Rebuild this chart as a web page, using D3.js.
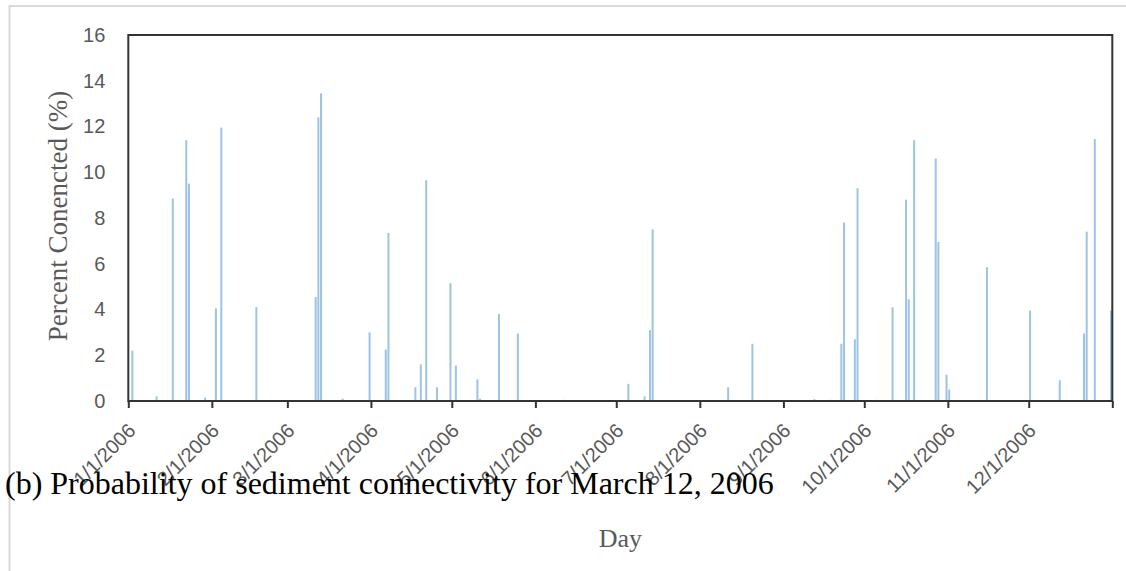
<!DOCTYPE html>
<html>
<head>
<meta charset="utf-8">
<script src="https://cdn.jsdelivr.net/npm/d3@7"></script>
<style>
  body { margin: 0; background: #fff; }
  svg { display: block; }
</style>
</head>
<body>
<div id="chart-area"><svg></svg></div>
<script>
// days with non-zero connectivity, 2006
const dates = [
  "2006-01-02", "2006-01-11", "2006-01-17", "2006-01-22", "2006-01-23", "2006-01-29",
  "2006-02-02", "2006-02-04", "2006-02-17",
  "2006-03-11", "2006-03-12", "2006-03-13", "2006-03-21", "2006-03-31",
  "2006-04-06", "2006-04-07", "2006-04-17", "2006-04-19", "2006-04-21", "2006-04-25", "2006-04-30",
  "2006-05-02", "2006-05-10", "2006-05-11", "2006-05-18", "2006-05-25",
  "2006-06-11",
  "2006-07-05", "2006-07-11", "2006-07-13", "2006-07-14",
  "2006-08-11", "2006-08-20",
  "2006-09-12", "2006-09-18", "2006-09-22", "2006-09-23", "2006-09-27", "2006-09-28",
  "2006-10-05", "2006-10-11", "2006-10-16", "2006-10-17", "2006-10-19", "2006-10-27", "2006-10-28", "2006-10-31",
  "2006-11-01", "2006-11-15",
  "2006-12-01", "2006-12-12", "2006-12-21", "2006-12-22", "2006-12-25", "2006-12-31"
];
const values = [
  2.2, 0.2, 8.85, 11.4, 9.5, 0.15,
  4.05, 11.95, 4.1,
  4.55, 12.4, 13.45, 0.1, 3.0,
  2.25, 7.35, 0.6, 1.6, 9.65, 0.6, 5.15,
  1.55, 0.95, 0.1, 3.8, 2.95,
  0.05,
  0.75, 0.2, 3.1, 7.5,
  0.6, 2.5,
  0.08, 0.05, 2.5, 7.8, 2.7, 9.3,
  0.05, 4.1, 8.8, 4.45, 11.4, 10.6, 6.95, 1.15,
  0.5, 5.85,
  3.95, 0.9, 2.95, 7.4, 11.45, 3.95
];
const yTicks = [0, 2, 4, 6, 8, 10, 12, 14, 16];
const monthTicks = [
  "2006-01-01", "2006-02-01", "2006-03-01", "2006-04-01", "2006-05-01", "2006-06-01",
  "2006-07-01", "2006-08-01", "2006-09-01", "2006-10-01", "2006-11-01", "2006-12-01", "2007-01-01"
];

const chartSize = { width: 1126, height: 571 };
const plot = { left: 128.3, right: 1112.3, top: 35, bottom: 401 };
const parse = d3.utcParse("%Y-%m-%d");
const fmt = d3.utcFormat("%-m/%-d/%Y");
const grey = "#595959";

const drawChart = () => {
  const svg = d3.select("#chart-area svg")
    .attr("width", chartSize.width)
    .attr("height", chartSize.height);

  // outer frame of the figure
  svg.append("path")
    .attr("d", `M9.5,${chartSize.height} V6 H${chartSize.width}`)
    .attr("fill", "none")
    .attr("stroke", "#d9d9d9")
    .attr("stroke-width", 2);

  const x = d3.scaleUtc()
    .domain([parse("2006-01-01"), parse("2007-01-01")])
    .range([plot.left, plot.right]);
  const y = d3.scaleLinear()
    .domain([0, 16])
    .range([plot.bottom, plot.top]);

  const dayW = x(parse("2006-01-02")) - x(parse("2006-01-01"));
  const barW = 2;

  const data = dates.map((d, i) => ({ date: parse(d), value: values[i] }));

  svg.append("g").selectAll("rect")
    .data(data)
    .enter()
    .append("rect")
    .attr("x", d => x(d.date) + dayW / 2 - barW / 2)
    .attr("y", d => y(d.value))
    .attr("width", barW)
    .attr("height", d => y(0) - y(d.value))
    .attr("fill", "#9dc3e6");

  // plot box
  svg.append("rect")
    .attr("x", plot.left)
    .attr("y", plot.top)
    .attr("width", plot.right - plot.left)
    .attr("height", plot.bottom - plot.top)
    .attr("fill", "none")
    .attr("stroke", "#333")
    .attr("stroke-width", 2);

  const yAxis = d3.axisLeft(y).tickValues(yTicks).tickSize(0).tickPadding(23);
  const gy = svg.append("g")
    .attr("transform", `translate(${plot.left},0)`)
    .call(yAxis);
  gy.select(".domain").remove();
  gy.selectAll("text")
    .attr("fill", grey)
    .attr("font-family", "Liberation Sans, Arial, sans-serif")
    .attr("font-size", 20);

  const xAxis = d3.axisBottom(x)
    .tickValues(monthTicks.map(parse))
    .tickSize(7)
    .tickFormat(d => d.getUTCFullYear() === 2006 ? fmt(d) : "");
  const gx = svg.append("g")
    .attr("transform", `translate(0,${plot.bottom})`)
    .call(xAxis);
  gx.select(".domain").remove();
  gx.selectAll("line").attr("stroke", "#333").attr("stroke-width", 2);
  gx.selectAll("text")
    .attr("x", null)
    .attr("y", null)
    .attr("dy", null)
    .attr("transform", "translate(8,31) rotate(-45)")
    .attr("text-anchor", "end")
    .attr("fill", grey)
    .attr("font-family", "Liberation Sans, Arial, sans-serif")
    .attr("font-size", 20);

  svg.append("text")
    .attr("transform", `translate(67,216) rotate(-90)`)
    .attr("text-anchor", "middle")
    .attr("font-family", "Liberation Serif, Times New Roman, serif")
    .attr("font-size", 27)
    .attr("fill", grey)
    .text("Percent Conencted (%)");

  svg.append("text")
    .attr("x", (plot.left + plot.right) / 2)
    .attr("y", 547)
    .attr("text-anchor", "middle")
    .attr("font-family", "Liberation Serif, Times New Roman, serif")
    .attr("font-size", 26)
    .attr("fill", grey)
    .text("Day");

  svg.append("text")
    .attr("x", 5)
    .attr("y", 494)
    .attr("font-family", "Liberation Serif, Times New Roman, serif")
    .attr("font-size", 32)
    .attr("fill", "#000")
    .text("(b) Probability of sediment connectivity for March 12, 2006");
}

window.onload = drawChart;
</script>
</body>
</html>
